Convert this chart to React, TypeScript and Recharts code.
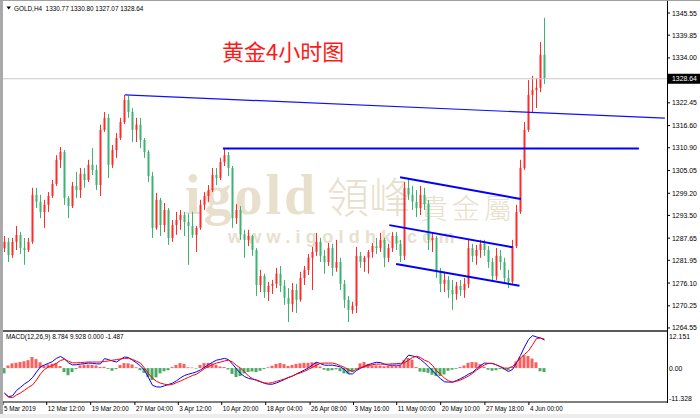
import React from "react";
import { ComposedChart, Bar, Line, XAxis, YAxis, ReferenceLine, Cell } from "recharts";

// GOLD H4 candles, 5 Mar - 4 Jun 2019 (one candle per three H4 bars)
const opens = [
  1285.1, 1286.7, 1283.3, 1286.7, 1288.5, 1285.1, 1284.6, 1286.7, 1298.8, 1297.0,
  1294.4, 1296.2, 1298.5, 1301.6, 1307.8, 1309.8, 1298.0, 1295.9, 1301.1, 1300.0,
  1304.2, 1302.6, 1306.5, 1305.2, 1301.3, 1315.5, 1318.6, 1306.5, 1310.3, 1313.4,
  1317.5, 1323.2, 1320.1, 1315.5, 1316.8, 1312.9, 1309.8, 1303.6, 1290.3, 1297.5,
  1291.0, 1294.9, 1287.7, 1291.0, 1292.3, 1293.6, 1291.8, 1290.8, 1288.5, 1290.3,
  1296.2, 1298.5, 1300.0, 1303.9, 1303.1, 1307.2, 1309.0, 1305.7, 1292.8, 1294.9,
  1288.7, 1287.2, 1288.2, 1284.6, 1275.6, 1277.9, 1273.8, 1275.4, 1275.9, 1278.5,
  1275.4, 1272.3, 1270.7, 1274.3, 1271.8, 1277.4, 1279.5, 1282.6, 1284.1, 1286.7,
  1283.1, 1281.5, 1285.1, 1280.0, 1281.5, 1275.9, 1271.8, 1269.2, 1270.2, 1283.1,
  1281.5, 1282.6, 1284.1, 1285.6, 1285.1, 1287.2, 1282.6, 1285.1, 1288.2, 1286.2,
  1283.1, 1300.6, 1298.8, 1297.0, 1295.4, 1298.8, 1296.4, 1287.2, 1287.7, 1279.0,
  1275.9, 1276.9, 1274.3, 1273.3, 1275.4, 1274.3, 1275.9, 1285.1, 1283.1, 1284.6,
  1286.2, 1284.6, 1281.5, 1277.9, 1283.1, 1281.5, 1277.4, 1276.4, 1285.6, 1294.4,
  1305.7, 1315.5, 1324.5, 1325.7, 1326.3, 1334.8,
];
const highs = [
  1288.2, 1287.7, 1287.7, 1290.8, 1289.2, 1287.7, 1287.7, 1300.6, 1300.6, 1298.8,
  1297.5, 1299.5, 1302.6, 1309.0, 1311.1, 1310.3, 1298.5, 1302.1, 1304.7, 1305.7,
  1305.7, 1307.8, 1310.8, 1306.5, 1316.8, 1320.1, 1319.6, 1311.6, 1314.7, 1318.6,
  1324.5, 1324.2, 1321.1, 1318.6, 1318.6, 1313.4, 1310.3, 1304.7, 1299.3, 1298.0,
  1296.7, 1295.4, 1292.3, 1294.4, 1294.9, 1294.4, 1293.9, 1294.4, 1290.8, 1297.5,
  1299.5, 1301.3, 1305.7, 1305.7, 1308.3, 1310.8, 1309.8, 1306.2, 1296.4, 1295.9,
  1289.8, 1289.8, 1288.5, 1285.1, 1279.5, 1278.5, 1276.4, 1276.9, 1280.0, 1280.5,
  1276.9, 1274.8, 1276.1, 1275.9, 1279.0, 1280.5, 1283.6, 1285.4, 1289.0, 1287.7,
  1284.6, 1286.4, 1286.2, 1287.2, 1282.6, 1276.9, 1272.8, 1271.3, 1285.4, 1284.1,
  1283.1, 1284.6, 1286.4, 1287.7, 1289.0, 1287.7, 1286.2, 1289.2, 1289.2, 1287.2,
  1302.1, 1303.1, 1301.1, 1300.0, 1301.1, 1300.6, 1297.5, 1289.2, 1288.2, 1280.0,
  1279.0, 1277.9, 1276.9, 1276.4, 1276.9, 1277.4, 1287.2, 1286.2, 1285.9, 1287.2,
  1287.2, 1285.6, 1282.6, 1285.1, 1284.6, 1282.6, 1279.5, 1287.2, 1296.2, 1307.8,
  1317.5, 1328.3, 1329.4, 1328.8, 1338.1, 1344.3,
];
const lows = [
  1284.1, 1281.5, 1282.6, 1284.6, 1283.6, 1280.8, 1284.1, 1286.2, 1295.4, 1292.8,
  1290.3, 1294.4, 1298.0, 1301.1, 1305.7, 1296.2, 1292.8, 1295.4, 1298.0, 1298.0,
  1300.6, 1302.1, 1303.9, 1300.0, 1298.5, 1315.0, 1303.1, 1305.7, 1308.3, 1312.9,
  1317.0, 1318.6, 1312.4, 1312.4, 1310.8, 1308.3, 1302.1, 1287.7, 1289.8, 1288.2,
  1289.2, 1285.9, 1286.7, 1288.5, 1289.8, 1288.2, 1280.8, 1287.7, 1284.1, 1289.8,
  1294.9, 1297.0, 1299.5, 1301.3, 1302.6, 1306.2, 1303.6, 1290.3, 1291.3, 1287.2,
  1282.6, 1285.6, 1283.1, 1272.8, 1273.8, 1272.3, 1271.5, 1273.3, 1274.8, 1273.8,
  1270.5, 1266.1, 1268.7, 1268.4, 1271.3, 1275.6, 1278.2, 1274.3, 1283.1, 1281.5,
  1278.5, 1280.5, 1277.9, 1279.0, 1274.3, 1269.7, 1266.1, 1268.2, 1268.4, 1280.0,
  1279.0, 1278.5, 1282.6, 1283.6, 1284.1, 1280.2, 1281.5, 1284.1, 1284.6, 1281.5,
  1282.0, 1297.5, 1294.9, 1293.1, 1293.6, 1294.9, 1284.6, 1284.1, 1277.4, 1273.8,
  1273.8, 1272.3, 1269.2, 1271.8, 1272.8, 1272.3, 1274.8, 1281.5, 1280.8, 1282.6,
  1283.1, 1280.0, 1276.4, 1276.9, 1279.5, 1275.9, 1274.8, 1275.9, 1285.1, 1293.9,
  1305.2, 1315.0, 1320.1, 1321.1, 1325.2, 1327.3,
];
const closes = [
  1286.7, 1283.3, 1286.7, 1288.5, 1285.1, 1284.6, 1286.7, 1298.8, 1297.0, 1294.4,
  1296.2, 1298.5, 1301.6, 1307.8, 1309.8, 1298.0, 1295.9, 1301.1, 1300.0, 1304.2,
  1302.6, 1306.5, 1305.2, 1301.3, 1315.5, 1318.6, 1306.5, 1310.3, 1313.4, 1317.5,
  1323.2, 1320.1, 1315.5, 1316.8, 1312.9, 1309.8, 1303.6, 1290.3, 1297.5, 1291.0,
  1294.9, 1287.7, 1291.0, 1292.3, 1293.6, 1291.8, 1290.8, 1288.5, 1290.3, 1296.2,
  1298.5, 1300.0, 1303.9, 1303.1, 1307.2, 1309.0, 1305.7, 1292.8, 1294.9, 1288.7,
  1287.2, 1288.2, 1284.6, 1275.6, 1277.9, 1273.8, 1275.4, 1275.9, 1278.5, 1275.4,
  1272.3, 1270.7, 1274.3, 1271.8, 1277.4, 1279.5, 1282.6, 1284.1, 1286.7, 1283.1,
  1281.5, 1285.1, 1280.0, 1281.5, 1275.9, 1271.8, 1269.2, 1270.2, 1283.1, 1281.5,
  1282.6, 1284.1, 1285.6, 1285.1, 1287.2, 1282.6, 1285.1, 1288.2, 1286.2, 1283.1,
  1300.6, 1298.8, 1297.0, 1295.4, 1298.8, 1296.4, 1287.2, 1287.7, 1279.0, 1275.9,
  1276.9, 1274.3, 1273.3, 1275.4, 1274.3, 1275.9, 1285.1, 1283.1, 1284.6, 1286.2,
  1284.6, 1281.5, 1277.9, 1283.1, 1281.5, 1277.4, 1276.4, 1285.6, 1294.4, 1305.7,
  1315.5, 1324.5, 1325.7, 1326.3, 1334.8, 1328.64,
];

// MACD(12,26,9) panel
const macdMain = [
  -9.5, -10.8, -10.5, -8.5, -7.3, -6, -5, -3.6, -1.5, 0.5,
  1.2, 1.8, 2.5, 3.7, 4.4, 3.5, 2, 1.2, 1.3, 1.5,
  1.7, 1.9, 1.8, 1.6, 1.6, 3.6, 3.2, 2.7, 2.3, 3.3,
  4.2, 4, 3, 2, 0.8, -0.8, -3.6, -6.5, -7.1, -7.2,
  -6.7, -6.2, -5.7, -4.8, -3.7, -2.8, -2.3, -1.9, -1.4, -0.7,
  0.3, 1.3, 2.2, 3, 3.3, 3.7, 3.2, 1.5, -0.3, -2,
  -3.2, -3.9, -4.2, -4.5, -5.1, -5.8, -6.1, -6.1, -5.6, -5,
  -4.3, -3.6, -3, -2.2, -1.5, -0.7, 0.1, 1.2, 2.2, 1.7,
  1.1, 1.1, 1.1, 0.8, 0.4, -0.5, -2.2, -2.2, -0.9, -0.1,
  0.7, 1.3, 1.8, 2.2, 2.1, 1.5, 1.1, 1.1, 1.1, 1.1,
  3, 4.9, 4.6, 4.2, 3.3, 2, 0.5, -1, -2.6, -4,
  -5.2, -5.3, -5.3, -4.7, -4, -3.2, -2.3, -1.6, -0.3, 1,
  1.9, 1.8, 1.7, 1.2, 0.5, -0.4, -1.3, -0.5, 2, 4.8,
  8, 10.8, 12.3, 11.8, 11.4, 10.6,
];
const macdSignal = [
  -9.5, -11, -11.2, -10.2, -9.4, -8.4, -7.3, -6.4, -4.5, -2.2,
  -0.5, 0.4, 1, 1.8, 2.9, 3.3, 2.6, 2, 2, 2.1,
  2.2, 2.3, 2.3, 2.3, 2.3, 2.5, 2.7, 3, 3.2, 3.5,
  3.7, 3.7, 3.3, 2.6, 1.9, 0, -2.1, -3.8, -5, -5.7,
  -6.1, -6.4, -6.2, -5.5, -4.9, -4.2, -3.5, -2.8, -2.3, -1.3,
  -0.2, 0.6, 1.3, 1.9, 2.3, 2.7, 3, 2.3, 1, 0,
  -1.4, -3, -4, -4.7, -5.2, -5.6, -5.7, -5.5, -5, -4.6,
  -4.1, -3.5, -3, -2.3, -1.8, -1.2, -0.5, 0.3, 1.1, 1.8,
  1.9, 1.9, 1.9, 1.5, 0.9, 0.3, -0.7, -1.2, -0.5, 0.2,
  0.6, 1, 1.3, 1.5, 1.5, 1.5, 1.5, 1.6, 1.7, 1.8,
  2, 3, 4, 4.5, 4, 3, 2.4, 1, -1, -2.3,
  -3.8, -4.8, -5.3, -5, -4.5, -3.8, -3, -2, -0.8, 0.3,
  1.2, 1.8, 1.8, 1.2, 0.5, 0, 0, 0.6, 2.2, 3.8,
  5.2, 6.5, 8.8, 11.2, 11.4, 11,
];
const macdHist = [
  -2, 1, 1.8, 2, 2.3, 2.6, 3, 4.2, 3.4, 2.2,
  1, 1.4, 1.7, 1.9, 0.8, -1.5, -2.7, -1.5, -0.4, 1,
  1.3, 1.3, 1.2, 1, 0.4, 0.5, -0.3, -1, -0.4, 1.2,
  1.9, 1.8, 1.4, 0.3, -0.8, -1.8, -3.5, -4.5, -3.5, -2,
  -1.2, -0.8, 0.4, 1.2, 1.9, 1.6, 0.3, 0.2, -0.2, 1.2,
  1.9, 2, 1.8, 1.2, 0.6, 0.4, -0.5, -2.2, -3.4, -3,
  -2, -1.5, -1.3, -1.5, -1, -0.4, 0.3, 0.9, 1.6, 1.9,
  1.5, 0.8, 1.2, 1.6, 1.8, 2, 2, 2.2, 2.3, 0.6,
  -0.6, -1, -0.8, -0.5, -1.2, -2, -2.1, -1.5, -0.4, 1.8,
  2.3, 1.6, 1, 1, 0.9, 0.7, 0.8, 0.9, 0.8, 1,
  3, 3.8, 3.2, 0.4, -1.3, -1.5, -1.8, -2.5, -3, -3,
  -2.4, -1, -0.6, -0.3, 0.4, 1, 2, 2.3, 2.2, 1.5,
  0.5, -0.6, -1, -0.8, -0.4, -0.5, -0.8, 0.5, 2.5, 4,
  4.9, 4.6, 3.6, 2.2, -1.2, -1.5,
];

const priceTicks = [
  1345.55, 1339.85, 1334.0, 1328.64, 1322.45, 1316.6, 1310.9, 1305.05,
  1299.2, 1293.5, 1287.65, 1281.95, 1276.1, 1270.25, 1264.55,
];
const lastPrice = 1328.64;
const macdTicks = [12.151, 0, -11.328];
const macdTickLabels = ["12.151", "0.00", "-11.328"];
const timeTickIdx = [-0.375, 10.55, 21.55, 32.6, 43.45, 54.3, 65.3, 76.4, 87.25, 98.05, 109.05, 120.1, 131.1];
const timeLabels = [
  "5 Mar 2019", "12 Mar 12:00", "19 Mar 20:00", "27 Mar 04:00", "3 Apr 12:00",
  "10 Apr 20:00", "18 Apr 04:00", "26 Apr 08:00", "3 May 16:00", "11 May 00:00",
  "20 May 10:00", "27 May 18:00", "4 Jun 00:00",
];

// drawn lines, as [candle index, price]
const resistanceLine = [[30.1, 1324.5], [165.1, 1318.5]];
const supportLine = [[54.6, 1310.7], [158.6, 1310.7]];
const channelTop = [[98.9, 1303.3], [129.1, 1297.7]];
const channelMid = [[96.2, 1291.0], [127.05, 1285.3]];
const channelLow = [[97.9, 1281.0], [128.75, 1275.4]];

const X_DOMAIN = [-0.375, 165.625];
const FONT = "'Liberation Sans', Arial, sans-serif";
const RED = "#ff2b2b";
const GREEN = "#3cb371";
const WM = "#e8e0cd";

const candles = closes.map((c, i) => ({
  i,
  o: opens[i],
  h: highs[i],
  l: lows[i],
  c,
  range: [lows[i], highs[i]],
}));
const macdData = macdMain.map((m, i) => ({ i, main: m, signal: macdSignal[i], hist: macdHist[i] }));

const seg = (p: number[][]) => [
  { x: p[0][0], y: p[0][1] },
  { x: p[1][0], y: p[1][1] },
];

const Candle = (props: any) => {
  const { x, y, width, height, payload } = props;
  if (!payload) return null;
  const top = Math.min(y, y + height);
  const bot = Math.max(y, y + height);
  const { o, h, l, c } = payload;
  const span = h - l || 1;
  const py = (p: number) => top + ((h - p) / span) * (bot - top);
  const color = c >= o ? RED : GREEN;
  const cx = Math.round(x + width / 2);
  const bt = py(Math.max(o, c));
  const bb = py(Math.min(o, c));
  return (
    <g>
      <line x1={cx + 0.5} x2={cx + 0.5} y1={top} y2={bot} stroke={color} strokeWidth={1} />
      <rect x={cx - 0.5} y={bt} width={2} height={Math.max(1, bb - bt)} fill={color} />
    </g>
  );
};

const PriceTick = (props: any) => {
  const { x, y, payload } = props;
  const v = payload.value;
  if (v === lastPrice) {
    return (
      <g>
        <rect x={x - 4} y={y - 5} width={32} height={10} fill="#000" />
        <text x={x} y={y + 2.5} fontSize={6.9} fill="#fff" fontFamily={FONT}>
          {v.toFixed(2)}
        </text>
      </g>
    );
  }
  return (
    <text x={x} y={y + 2.5} fontSize={6.9} fill="#000" fontFamily={FONT}>
      {v.toFixed(2)}
    </text>
  );
};

const MacdTick = (props: any) => {
  const { x, y, payload } = props;
  const k = macdTicks.indexOf(payload.value);
  return (
    <text x={x - 3} y={y + 2.5} fontSize={6.9} fill="#000" fontFamily={FONT}>
      {macdTickLabels[k]}
    </text>
  );
};

const TimeTick = (props: any) => {
  const { x, y, payload } = props;
  const k = timeTickIdx.indexOf(payload.value);
  return (
    <text x={x + 1} y={y + 4.5} fontSize={6.3} fill="#000" fontFamily={FONT}>
      {timeLabels[k]}
    </text>
  );
};

export default function App() {
  return (
    <div style={{ position: "absolute", left: 0, top: 0, width: 700, height: 418, background: "#fff", overflow: "hidden" }}>
      {/* watermark */}
      <svg width={700} height={418} style={{ position: "absolute", left: 0, top: 0 }}>
        <text x={185} y={214} fontSize={56} letterSpacing={3} fontWeight="bold" fontFamily="'Liberation Serif', serif" fill={WM}>
          igold
        </text>
        <text x={327} y={213} fontSize={42} fontFamily="'Noto Sans CJK TC', sans-serif" fontWeight={300} fill={WM}>
          領峰
        </text>
        <text x={420} y={219} fontSize={28} letterSpacing={4} fontFamily="'Noto Sans CJK TC', sans-serif" fontWeight={300} fill={WM}>
          貴金屬
        </text>
        <text x={228} y={243} fontSize={18} letterSpacing={5.3} fontWeight="bold" fontFamily={FONT} fill={WM}>
          www.igoldhk.com
        </text>
      </svg>

      <div style={{ position: "absolute", left: 0, top: 0 }}>
        <ComposedChart width={700} height={331} data={candles} margin={{ top: 12, right: 0, bottom: 0, left: 3 }}>
          <XAxis dataKey="i" type="number" domain={X_DOMAIN} allowDataOverflow hide />
          <YAxis
            orientation="right"
            width={33}
            type="number"
            domain={[1263.77, 1345.81]}
            allowDataOverflow
            ticks={priceTicks}
            interval={0}
            axisLine={false}
            tickLine={{ stroke: "#000" }}
            tickSize={3}
            tickMargin={2}
            tick={<PriceTick />}
          />
          <ReferenceLine y={lastPrice} stroke="#c8c8c8" strokeWidth={1} />
          <Bar dataKey="range" barSize={3} shape={<Candle />} isAnimationActive={false} />
          <ReferenceLine segment={seg(resistanceLine)} stroke="#1010ff" strokeWidth={1.2} />
          <ReferenceLine segment={seg(supportLine)} stroke="#0000ff" strokeWidth={2} />
          <ReferenceLine segment={seg(channelTop)} stroke="#0000ff" strokeWidth={2} />
          <ReferenceLine segment={seg(channelMid)} stroke="#0000ff" strokeWidth={2} />
          <ReferenceLine segment={seg(channelLow)} stroke="#0000ff" strokeWidth={2} />
        </ComposedChart>
      </div>

      <div style={{ position: "absolute", left: 0, top: 331 }}>
        <ComposedChart width={700} height={87} data={macdData} margin={{ top: 2, right: 0, bottom: 0, left: 3 }}>
          <XAxis
            dataKey="i"
            type="number"
            domain={X_DOMAIN}
            allowDataOverflow
            ticks={timeTickIdx}
            interval={0}
            height={16}
            axisLine={{ stroke: "#000" }}
            tickLine={{ stroke: "#000" }}
            tickSize={3}
            tickMargin={1}
            tick={<TimeTick />}
          />
          <YAxis
            orientation="right"
            width={33}
            type="number"
            domain={[-12.84, 13.29]}
            allowDataOverflow
            ticks={macdTicks}
            interval={0}
            axisLine={false}
            tickLine={false}
            tickSize={3}
            tickMargin={2}
            tick={<MacdTick />}
          />
          <Bar dataKey="hist" barSize={3} isAnimationActive={false}>
            {macdData.map((d, k) => (
              <Cell key={k} fill={d.hist >= 0 ? "#ff4040" : "#2a9a48"} fillOpacity={0.85} />
            ))}
          </Bar>
          <Line dataKey="main" type="linear" stroke="#0000ff" strokeWidth={1} dot={false} isAnimationActive={false} />
          <Line dataKey="signal" type="linear" stroke="#ff0000" strokeWidth={1} dot={false} isAnimationActive={false} />
        </ComposedChart>
      </div>

      {/* window frame and titles */}
      <div style={{ position: "absolute", left: 0, top: 0, width: 3, height: 418, background: "#a9a9a9" }} />
      <div style={{ position: "absolute", left: 0, top: 0, width: 700, height: 1, background: "#a0a0a0" }} />
      <div style={{ position: "absolute", left: 3, top: 330, width: 665, height: 2, background: "#5a5a5a" }} />
      <div style={{ position: "absolute", left: 667, top: 1, width: 1, height: 402, background: "#000" }} />
      <div style={{ position: "absolute", left: 0, top: 414, width: 700, height: 4, background: "#ededed" }} />
      <svg width={700} height={418} style={{ position: "absolute", left: 0, top: 0, pointerEvents: "none" }}>
        <path d="M6.5,6.5 L11,6.5 L8.75,9.5 Z" fill="#000" />
        <text x={14} y={10.5} fontSize={6.4} fontFamily={FONT} fill="#000" style={{ whiteSpace: "pre" }}>
          {"GOLD,H4  1330.77 1330.80 1327.07 1328.64"}
        </text>
        <text x={6} y={339} fontSize={6.4} fontFamily={FONT} fill="#000">
          MACD(12,26,9) 8.784 9.928 0.000 -1.487
        </text>
        <text x={222} y={60} fontSize={22} fontFamily="'Noto Sans CJK SC', sans-serif" fill="#ff1a1a">
          黄金4小时图
        </text>
      </svg>
    </div>
  );
}
